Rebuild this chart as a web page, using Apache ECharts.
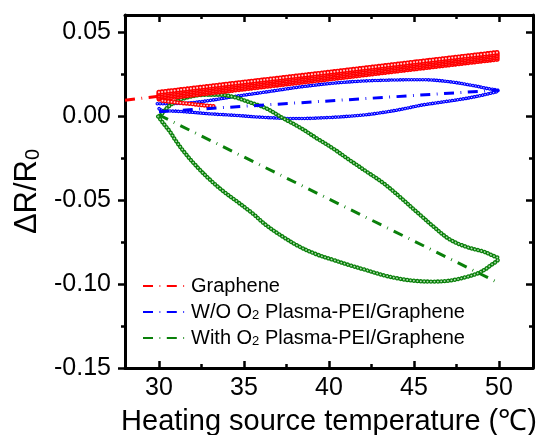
<!DOCTYPE html>
<html><head><meta charset="utf-8">
<script src="https://cdn.jsdelivr.net/npm/echarts@6/dist/echarts.min.js"></script>
<style>html,body{margin:0;padding:0;background:#fff}#c{width:543px;height:435px}</style>
</head><body><div id="c"></div>
<script>
const FONT = '"Liberation Sans", Arial, sans-serif';

// ---- tick values ----
const xMajorTicks = [30, 35, 40, 45, 50];
const xMinorTicks = [32.5, 37.5, 42.5, 47.5];
const yMajorTicks = [-0.15, -0.10, -0.05, 0, 0.05];
const yMinorTicks = [-0.125, -0.075, -0.025, 0.025];

const legendNames = ['Graphene', 'W/O O2 Plasma-PEI/Graphene', 'With O2 Plasma-PEI/Graphene'];

// ---- Graphene (red band of repeated cycles) ----
const redBandT = [30, 35, 40, 45, 50];
const redRow1 = [0.0100, 0.0160, 0.0219, 0.0279, 0.0338];
const redRow2 = [0.0110, 0.0170, 0.0229, 0.0289, 0.0348];
const redRow3 = [0.0120, 0.0180, 0.0239, 0.0299, 0.0358];
const redRow4 = [0.0130, 0.0190, 0.0249, 0.0309, 0.0368];
const redRow5 = [0.0140, 0.0200, 0.0259, 0.0319, 0.0378];
const redTailT = [30.2, 31.0, 31.8, 32.5, 33.2];
const redTailR = [0.0090, 0.0080, 0.0072, 0.0064, 0.0057];

// ---- W/O O2 plasma (blue loop: heating then cooling) ----
const blueLoopT = [29.9, 31.5, 33.0, 34.4, 36.0, 38.3, 40.3, 42.2, 44.2, 45.5, 47.1, 48.5, 49.3, 49.95,
                   49.1, 48.0, 46.5, 45.5, 44.2, 43.0, 42.0, 40.0, 38.0, 36.0, 34.5, 33.0, 31.6, 30.5, 30.1, 29.95];
const blueLoopR = [0.0072, 0.0075, 0.0092, 0.0115, 0.0138, 0.0172, 0.0195, 0.0208, 0.0214, 0.0215, 0.0203, 0.0180, 0.0163, 0.0150,
                   0.0125, 0.0103, 0.0080, 0.0065, 0.0038, 0.0018, 0.0005, -0.0010, -0.0016, -0.0008, 0.0003, 0.0012, 0.0024, 0.0030, 0.0035, 0.0050];

// ---- With O2 plasma (green loop) ----
const greenLoopT = [29.95, 30.3, 30.65, 31.0, 31.6, 32.3, 33.0, 33.8, 34.6, 35.5, 36.3, 37.3, 38.3, 39.3, 40.25, 41.2, 42.2, 43.2, 44.2, 45.1, 46.1, 47.1, 48.1, 48.9, 49.5, 49.96,
                    49.6, 49.1, 48.1, 47.1, 46.1, 45.2, 44.2, 43.2, 42.2, 41.2, 40.25, 39.3, 38.3, 37.3, 36.3, 35.35, 34.4, 33.5, 32.5, 31.5, 30.9, 30.5, 30.2, 30.0];
const greenLoopR = [-0.0004, -0.0050, -0.0095, -0.0150, -0.0230, -0.0310, -0.0380, -0.0450, -0.0510, -0.0580, -0.0650, -0.0720, -0.0780, -0.0825, -0.0857, -0.0888, -0.0918, -0.0948, -0.0970, -0.0982, -0.0986, -0.0980, -0.0958, -0.0930, -0.0890, -0.0850,
                    -0.0830, -0.0808, -0.0780, -0.0735, -0.0655, -0.0575, -0.0485, -0.0400, -0.0331, -0.0262, -0.0195, -0.0135, -0.0070, -0.0014, 0.0045, 0.0080, 0.0112, 0.0126, 0.0124, 0.0105, 0.0080, 0.0050, 0.0015, -0.0002];

// ---- linear fits ----
const redFitT = [28, 50],   redFitR = [0.0093, 0.0355];
const blueFitT = [30, 50],  blueFitR = [0.0025, 0.0153];
const greenFitT = [30, 50], greenFitR = [0.0005, -0.0995];

const zip = (a, b) => a.map((v, i) => [v, b[i]]);

function dotted(name, data, color, inner, width, innerWidth, gap, z) {
  return [
    { type: 'line', name: name, data: data, smooth: 0.35, symbol: 'none', silent: true, z: z,
      lineStyle: { color: color, width: width, type: [0.01, gap], cap: 'round' } },
    { type: 'line', name: name + '_in', data: data, smooth: 0.35, symbol: 'none', silent: true, z: z,
      lineStyle: { color: inner, width: innerWidth, type: [0.01, gap], cap: 'round' } }
  ];
}
function fit(name, data, color, z) {
  return { type: 'line', name: name, data: data, symbol: 'none', showSymbol: false, silent: true, z: z,
    itemStyle: { color: color, opacity: 0 },
    lineStyle: { color: color, width: 3, type: [10, 6.5, 0.8, 6.5] } };
}

const RED = '#ff0000', BLUE = '#0000ff', GREEN = '#0a800a';
let series = [];
series = series.concat(dotted('blueLoop', zip(blueLoopT, blueLoopR), BLUE, '#c8c8ff', 3.6, 1.3, 2.8, 2));
series = series.concat(dotted('greenLoop', zip(greenLoopT, greenLoopR), GREEN, '#b5dcb5', 4.4, 1.8, 3.4, 3));
[redRow1, redRow2, redRow3, redRow4, redRow5].forEach((row, i) => {
  series = series.concat(dotted('redRow' + i, zip(redBandT, row), RED, '#ffd0d0', 5.2, 2, 3.2, 4));
});
series = series.concat(dotted('redTail', zip(redTailT, redTailR), RED, '#ffd0d0', 4.5, 1.8, 3, 4));
series.push(fit('Graphene', zip(redFitT, redFitR), RED, 1));
series.push(fit('W/O O2 Plasma-PEI/Graphene', zip(blueFitT, blueFitR), BLUE, 5));
series.push(fit('With O2 Plasma-PEI/Graphene', zip(greenFitT, greenFitR), GREEN, 5));

const axisLineStyle = { color: '#000', width: 3 };
function xAx(gridIndex, position, ticks, len, showLine, showLabel) {
  return {
    type: 'value', gridIndex: gridIndex, position: position, min: 28, max: 52,
    splitLine: { show: false },
    axisLine: { show: showLine, onZero: false, lineStyle: axisLineStyle },
    axisTick: { show: true, inside: true, length: len, customValues: ticks, lineStyle: { color: '#000', width: 2.5 } },
    axisLabel: { show: showLabel, customValues: ticks, fontFamily: FONT, fontSize: 25, color: '#000', margin: 8 }
  };
}
function yAx(gridIndex, position, ticks, len, inside, showLine, showLabel) {
  return {
    type: 'value', gridIndex: gridIndex, position: position, min: -0.15, max: 0.06,
    splitLine: { show: false },
    axisLine: { show: showLine, onZero: false, lineStyle: axisLineStyle },
    axisTick: { show: true, inside: inside, length: len, customValues: ticks, lineStyle: { color: '#000', width: 2.5 } },
    axisLabel: { show: showLabel, customValues: ticks, fontFamily: FONT, fontSize: 25, color: '#000', margin: 14,
      formatter: v => v.toFixed(2) }
  };
}

const xMain = xAx(0, 'bottom', xMajorTicks, 7, true, true);
Object.assign(xMain, {
  name: 'Heating source temperature (℃)', nameLocation: 'middle', nameGap: 39,
  nameTextStyle: { fontFamily: FONT, fontSize: 29, color: '#000' }
});
const yMain = yAx(0, 'left', yMajorTicks, 7, false, true, true);
Object.assign(yMain, {
  name: 'ΔR/R{s|0}', nameLocation: 'middle', nameGap: 73,
  nameTextStyle: { fontFamily: FONT, fontSize: 31, color: '#000',
    rich: { s: { fontFamily: FONT, fontSize: 20, color: '#000', verticalAlign: 'bottom', lineHeight: 14 } } }
});

const chart = echarts.init(document.getElementById('c'));
chart.setOption({
  animation: false,
  backgroundColor: '#fff',
  grid: [
    { left: 125, right: 10, top: 15, bottom: 67, containLabel: false, outerBoundsMode: 'none' },
    { left: 125, right: 10, top: 15, bottom: 67, containLabel: false, outerBoundsMode: 'none' }
  ],
  xAxis: [
    xMain,
    xAx(0, 'top', xMajorTicks, 7, true, false),
    xAx(1, 'bottom', xMinorTicks, 4, false, false),
    xAx(1, 'top', xMinorTicks, 4, false, false)
  ],
  yAxis: [
    yMain,
    yAx(0, 'right', yMajorTicks, 7, true, true, false),
    yAx(1, 'left', yMinorTicks, 4, false, false, false),
    yAx(1, 'right', yMinorTicks, 4, true, false, false)
  ],
  legend: {
    data: legendNames, orient: 'vertical', left: 137, top: 271, itemWidth: 43, itemHeight: 12, itemGap: 6,
    itemStyle: { opacity: 0 },
    formatter: n => n.indexOf('O2') >= 0 ? n.replace('O2', 'O{s|2}') : n,
    textStyle: { fontFamily: FONT, fontSize: 20, color: '#000',
      rich: { s: { fontFamily: FONT, fontSize: 13, color: '#000', verticalAlign: 'bottom', lineHeight: 12 } } }
  },
  series: series
});
</script></body></html>
